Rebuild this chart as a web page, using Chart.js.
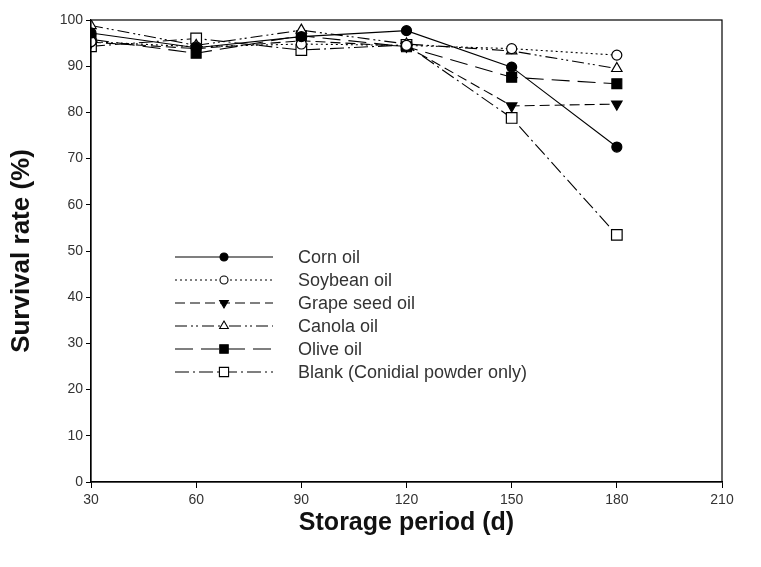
<!DOCTYPE html>
<html>
<head>
<meta charset="utf-8">
<script src="https://cdn.jsdelivr.net/npm/chart.js@4"></script>
<style>
  html, body { margin: 0; padding: 0; background: #fff; }
  #grafica { display: block; }
</style>
</head>
<body>
<canvas id="grafica" width="761" height="567"></canvas>
<script>
// storage period (d)
const DAYS = [30, 60, 90, 120, 150, 180];
const X_TICKS = [30, 60, 90, 120, 150, 180, 210];

// survival rate (%)
const CORN    = [97.2, 94.0, 96.4, 97.7, 89.8, 72.5];
const SOYBEAN = [95.3, 94.2, 94.8, 94.5, 93.8, 92.4];
const GRAPE   = [95.2, 93.8, 95.5, 94.3, 81.4, 81.8];
const CANOLA  = [98.8, 94.5, 97.8, 94.8, 93.3, 89.5];
const OLIVE   = [95.8, 92.8, 96.6, 94.2, 87.6, 86.2];
const BLANK   = [94.3, 96.0, 93.5, 94.6, 78.8, 53.5];

const LABELS = ["Corn oil", "Soybean oil", "Grape seed oil", "Canola oil", "Olive oil", "Blank (Conidial powder only)"];

const series = [
  { data: CORN,    dash: [],                  style: "circle",   fill: true,  r: 5,   rot: 0 },
  { data: SOYBEAN, dash: [2, 3],              style: "circle",   fill: false, r: 5,   rot: 0 },
  { data: GRAPE,   dash: [10, 5],             style: "triangle", fill: true,  r: 6,   rot: 180 },
  { data: CANOLA,  dash: [12, 4, 2, 3, 2, 4], style: "triangle", fill: false, r: 6,   rot: 0 },
  { data: OLIVE,   dash: [18, 8],             style: "rect",     fill: true,  r: 7,   rot: 0 },
  { data: BLANK,   dash: [14, 4, 2, 4],       style: "rect",     fill: false, r: 7.5, rot: 0 }
];

const FONT = "'Liberation Sans', Arial, sans-serif";

const ds = series.map((s, i) => ({
  label: LABELS[i],
  data: DAYS.map((d, j) => ({ x: d, y: s.data[j] })),
  borderColor: "#000",
  borderWidth: 1.1,
  borderDash: s.dash,
  pointStyle: s.style,
  pointRotation: s.rot,
  pointRadius: s.r,
  pointBorderWidth: 1.2,
  pointBorderColor: "#000",
  pointBackgroundColor: s.fill ? "#000" : "#fff",
  tension: 0,
  fill: false
}));

// box around the plot area
const marco = {
  id: "marco",
  afterDatasetsDraw(chart) {
    const { ctx, chartArea: a } = chart;
    ctx.save();
    ctx.strokeStyle = "#000";
    ctx.lineWidth = 1.2;
    ctx.setLineDash([]);
    ctx.strokeRect(a.left, a.top, a.right - a.left, a.bottom - a.top);
    ctx.restore();
  }
};

// legend inside the plot, drawn with each dataset's own line + marker
const leyenda = {
  id: "leyenda",
  afterDatasetsDraw(chart) {
    const ctx = chart.ctx;
    ctx.save();
    chart.data.datasets.forEach((d, i) => {
      const y = 257 + i * 23;
      ctx.strokeStyle = "#000";
      ctx.lineWidth = 1.1;
      ctx.setLineDash(d.borderDash);
      ctx.beginPath();
      ctx.moveTo(175, y);
      ctx.lineTo(273, y);
      ctx.stroke();
      ctx.setLineDash([]);
      ctx.fillStyle = d.pointBackgroundColor;
      ctx.strokeStyle = "#000";
      Chart.helpers.drawPoint(ctx, {
        pointStyle: d.pointStyle,
        rotation: d.pointRotation,
        radius: d.pointRadius - 1,
        borderWidth: 1.2
      }, 224, y);
      ctx.fillStyle = "#333";
      ctx.font = "18px " + FONT;
      ctx.textBaseline = "middle";
      ctx.textAlign = "left";
      ctx.fillText(d.label, 298, y + 1);
    });
    ctx.restore();
  }
};

const canvas = document.getElementById("grafica");

new Chart(canvas, {
  type: "line",
  data: { datasets: ds },
  plugins: [marco, leyenda],
  options: {
    responsive: false,
    animation: false,
    layout: { padding: { top: 20, right: 39, left: 0, bottom: 0 } },
    plugins: {
      legend: { display: false },
      tooltip: { enabled: false }
    },
    scales: {
      x: {
        type: "linear",
        min: 30,
        max: 210,
        afterBuildTicks: (axis) => { axis.ticks = X_TICKS.map(v => ({ value: v })); },
        afterFit: (axis) => { axis.height = 85; },
        grid: { display: true, drawOnChartArea: false, drawTicks: true, tickLength: 6, color: "#000" },
        border: { display: true, color: "#000", width: 1.2 },
        ticks: {
          color: "#333",
          padding: 4,
          maxRotation: 0,
          font: { size: 14, family: FONT }
        },
        title: {
          display: true,
          text: "Storage period (d)",
          color: "#111",
          padding: { top: 0, bottom: 29 },
          font: { size: 25, weight: "bold", family: FONT }
        }
      },
      y: {
        min: 0,
        max: 100,
        afterFit: (axis) => { axis.width = 91; },
        grid: { display: true, drawOnChartArea: false, drawTicks: true, tickLength: 5, color: "#000" },
        border: { display: true, color: "#000", width: 1.2 },
        ticks: {
          stepSize: 10,
          color: "#333",
          padding: 3,
          font: { size: 14, family: FONT }
        },
        title: {
          display: true,
          text: "Survival rate (%)",
          color: "#111",
          padding: { top: 6, bottom: 0 },
          font: { size: 26, weight: "bold", family: FONT }
        }
      }
    }
  }
});
</script>
</body>
</html>
